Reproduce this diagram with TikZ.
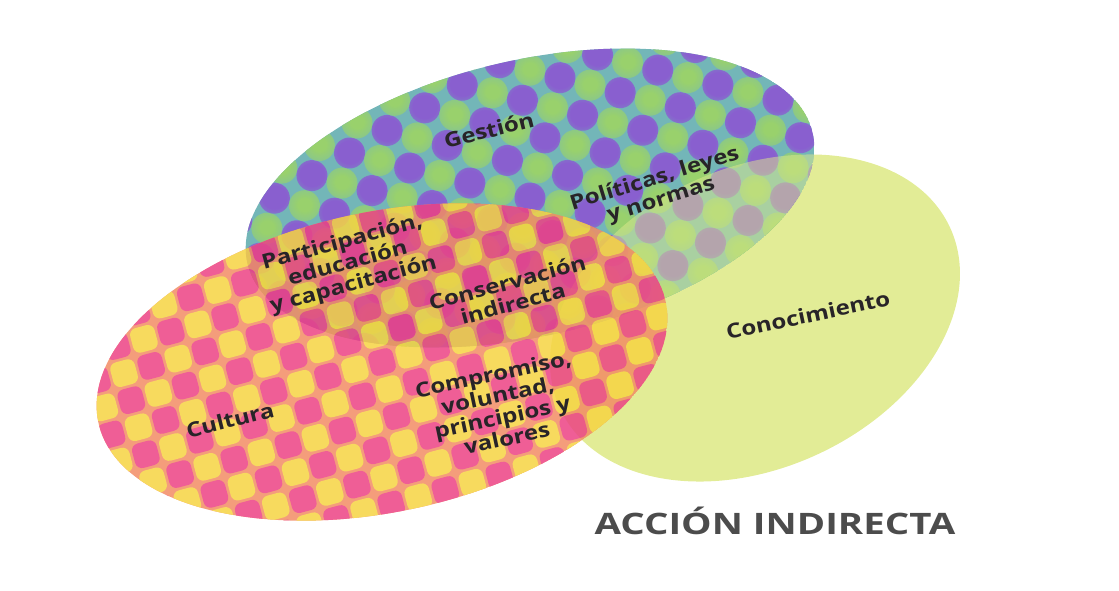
\documentclass[tikz,border=0pt]{standalone}
\usepackage{fontspec}
\setmainfont{Open Sans}
\newfontfamily\lblfam[FakeStretch=1.18]{Open Sans}
\newfontfamily\titlefam[FakeStretch=1.3]{Open Sans}
\usetikzlibrary{backgrounds}
\definecolor{conocolor}{RGB}{226,236,150}
\definecolor{gestbase}{RGB}{100,174,176}
\definecolor{gestdot}{RGB}{124,78,202}
\definecolor{gestgreen}{RGB}{142,204,92}
\definecolor{cultbase}{RGB}{242,140,100}
\definecolor{cultpink}{RGB}{236,66,132}
\definecolor{cultyellow}{RGB}{246,212,66}
\definecolor{labelcolor}{RGB}{40,36,40}
\pgfdeclareradialshading{gestblob}{\pgfpointorigin}{color(0bp)=(gestdot); color(18bp)=(gestdot); color(50bp)=(gestbase)}
\pgfdeclareradialshading{greenblob}{\pgfpointorigin}{color(0bp)=(gestgreen); color(10bp)=(gestgreen); color(50bp)=(gestbase)}
\newcommand{\gestion}{(530,-198) ellipse [x radius=290, y radius=138, rotate=13]}
\newcommand{\conoc}{(755,-318) ellipse [x radius=215, y radius=150, rotate=25]}
\newcommand{\cultura}{(382,-362) ellipse [x radius=290, y radius=150, rotate=12]}
\newcommand{\gcell}{31}
\newcommand{\ccell}{28}
\newcommand{\lblfont}{\lblfam\bfseries\fontsize{14.5}{15.5}\selectfont\lineskiplimit=-20pt\relax}

\begin{document}
\begin{tikzpicture}[x=0.025cm, y=0.025cm,
  lbl/.style={font=\lblfont, text=labelcolor, align=center, inner sep=0pt},
  cell/.style={rounded corners=5}]
\useasboundingbox (0,0) rectangle (1119,-591);
%conocimiento
\fill[conocolor] \conoc;
%gestion
\begin{scope}[transparency group, opacity=0.9]
\clip \gestion;
\fill[gestbase] \gestion;
\begin{scope}[shift={(530,-198)}, rotate=-14]
\foreach \i in {-11,...,11}
  \foreach \j in {-7,...,7} {
    \pgfmathtruncatemacro{\k}{\i+\j+30}
    \ifodd\k
      \shade[shading=greenblob] (\i*\gcell,\j*\gcell) circle (\gcell/2);
    \else
      \shade[shading=gestblob] (\i*\gcell,\j*\gcell) circle (\gcell/2);
    \fi
  }
\end{scope}
\end{scope}
%gestion y conocimiento
\begin{scope}
\clip \gestion;
\fill[conocolor, opacity=0.5] \conoc;
\end{scope}
%cultura
\begin{scope}[transparency group, opacity=0.85]
\clip \cultura;
\fill[cultbase] \cultura;
\begin{scope}[shift={(382,-362)}, rotate=15]
\foreach \i in {-12,...,12}
  \foreach \j in {-7,...,7} {
    \pgfmathtruncatemacro{\k}{\i+\j+30}
    \ifodd\k
      \fill[cell, cultyellow] (\i*\ccell-0.45*\ccell,\j*\ccell-0.45*\ccell) rectangle ++(0.9*\ccell,0.9*\ccell);
    \else
      \fill[cell, cultpink] (\i*\ccell-0.45*\ccell,\j*\ccell-0.45*\ccell) rectangle ++(0.9*\ccell,0.9*\ccell);
    \fi
  }
\end{scope}
\end{scope}
%labels
\node[lbl, rotate=14] (gestionlbl) at (489,-130) {Gestión};
\node[lbl, rotate=17] (politicas) at (658,-190) {Políticas, leyes\\y normas};
\node[lbl, rotate=15] (participacion) at (348,-264) {Participación,\\educación\\y capacitación};
\node[lbl, rotate=15] (conservacion) at (510,-293) {Conservación\\indirecta};
\node[lbl, rotate=12] (conocimiento) at (808,-315) {Conocimiento};
\node[lbl, rotate=14] (culturalbl) at (230,-420) {Cultura};
\node[lbl, rotate=12] (compromiso) at (500,-406) {Compromiso,\\voluntad,\\principios y\\valores};
\node[font=\titlefam\bfseries\fontsize{21}{24}\selectfont, text=black!70, inner sep=0pt] (accion) at (775,-521) {ACCIÓN INDIRECTA};
\end{tikzpicture}
\end{document}
